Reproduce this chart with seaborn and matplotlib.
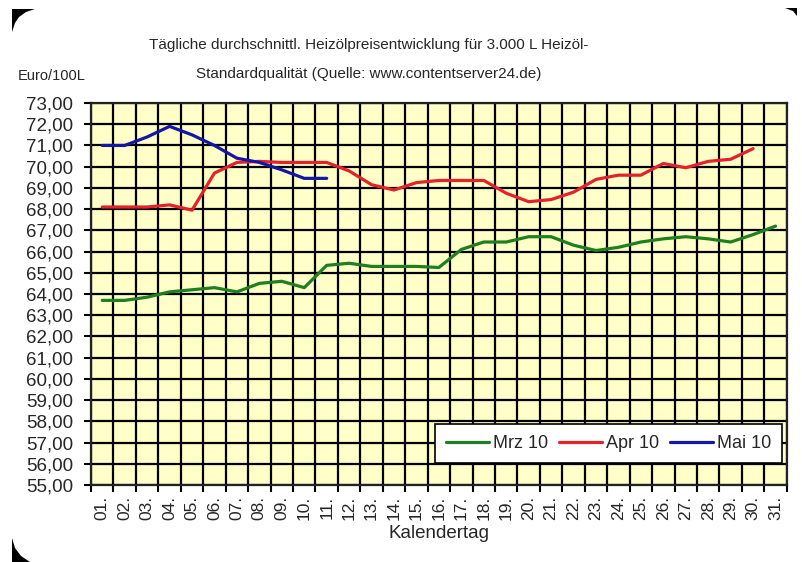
import pandas as pd
import matplotlib
matplotlib.use("Agg")
import matplotlib.pyplot as plt
from matplotlib.patches import Polygon
from matplotlib.ticker import FixedLocator, NullFormatter
import seaborn as sns

# data
days = list(range(1, 32))
day_labels = [f"{d:02d}." for d in days]
mrz = [63.7, 63.7, 63.85, 64.1, 64.2, 64.3, 64.1, 64.5, 64.6, 64.3, 65.35,
       65.45, 65.3, 65.3, 65.3, 65.25, 66.1, 66.45, 66.45, 66.7, 66.7, 66.3,
       66.05, 66.2, 66.45, 66.6, 66.7, 66.6, 66.45, 66.8, 67.2]
apr = [68.1, 68.1, 68.1, 68.2, 67.95, 69.7, 70.2, 70.25, 70.2, 70.2, 70.2,
       69.8, 69.15, 68.9, 69.25, 69.35, 69.35, 69.35, 68.75, 68.35, 68.45,
       68.8, 69.4, 69.6, 69.6, 70.15, 69.95, 70.25, 70.35, 70.85]
mai = [71.0, 71.0, 71.4, 71.9, 71.5, 71.0, 70.4, 70.2, 69.85, 69.45, 69.45]
months = ["Mrz 10", "Apr 10", "Mai 10"]
colors = ["#1f7f1f", "#e3222a", "#1515a8"]
y_ticks = list(range(55, 74))

rows = []
for name, vals in zip(months, [mrz, apr, mai]):
    for d, v in zip(days, vals):
        rows.append({"Tag": d, "Preis": v, "Monat": name})
df = pd.DataFrame(rows)

sns.set_style("white")
plt.rcParams["font.family"] = ["Liberation Sans", "DejaVu Sans"]

fig = plt.figure(figsize=(8.02, 5.62), dpi=100)
fig.patch.set_facecolor("white")
ax = fig.add_axes([0.1135, 0.137, 0.8675, 0.6797])
ax.set_facecolor("#ffffc8")

sns.lineplot(data=df, x="Tag", y="Preis", hue="Monat", hue_order=months,
             palette=colors, linewidth=2.3, ax=ax)

ax.set_xlim(0.5, 31.5)
ax.set_ylim(55, 73)

# grid: vertical lines between days, horizontal at every euro
ax.xaxis.set_major_locator(FixedLocator([d + 0.5 for d in range(0, 32)]))
ax.xaxis.set_major_formatter(NullFormatter())
ax.xaxis.set_minor_locator(FixedLocator(days))
ax.set_xticklabels(day_labels, minor=True, rotation=90, fontsize=12.5)
ax.tick_params(axis="x", which="minor", length=0, pad=8)
ax.tick_params(axis="x", which="major", length=5, width=1.5, color="black",
               direction="out", bottom=True)
ax.set_yticks(y_ticks)
ax.set_yticklabels([f"{v:.2f}".replace(".", ",") for v in y_ticks],
                   fontsize=13.5)
ax.tick_params(axis="y", length=5, width=1.5, color="black", direction="out",
               left=True, pad=8)
ax.grid(True, which="major", color="black", linewidth=1.6)
ax.set_axisbelow(True)
for s in ax.spines.values():
    s.set_color("#222222")
    s.set_linewidth(1.6)

ax.set_xlabel("Kalendertag", fontsize=13.5, labelpad=3)
ax.set_ylabel("")

leg = ax.legend(loc="lower right", bbox_to_anchor=(0.993, 0.058), ncol=3,
                frameon=True, fancybox=False, fontsize=13, handlelength=2.4,
                handletextpad=0.2, columnspacing=0.6, borderpad=0.6,
                borderaxespad=0)
leg.get_frame().set_edgecolor("black")
leg.get_frame().set_linewidth(1.2)
leg.get_frame().set_alpha(1)
for line in leg.get_lines():
    line.set_linewidth(2.3)

fig.text(369 / 802, 1 - 45 / 562,
         "Tägliche durchschnittl. Heizölpreisentwicklung für 3.000 L Heizöl-",
         ha="center", va="center", fontsize=11)
fig.text(369 / 802, 1 - 74 / 562,
         "Standardqualität (Quelle: www.contentserver24.de)",
         ha="center", va="center", fontsize=11)
fig.text(18 / 802, 1 - 76 / 562, "Euro/100L", ha="left", va="center",
         fontsize=10.5)

# dark photo corners
def px(points):
    return [(x / 802, 1 - y / 562) for x, y in points]

corners = [
    [(12, 9), (35, 9), (26, 12), (19, 17), (15, 23), (12, 32)],
    [(785, 8), (797, 8), (797, 16), (793, 11)],
    [(12, 538), (15, 548), (21, 556), (30, 562), (12, 562)],
]
for pts in corners:
    fig.patches.append(Polygon(px(pts), closed=True, facecolor="black",
                               edgecolor="none", transform=fig.transFigure))

fig.savefig("out.png", dpi=100)
